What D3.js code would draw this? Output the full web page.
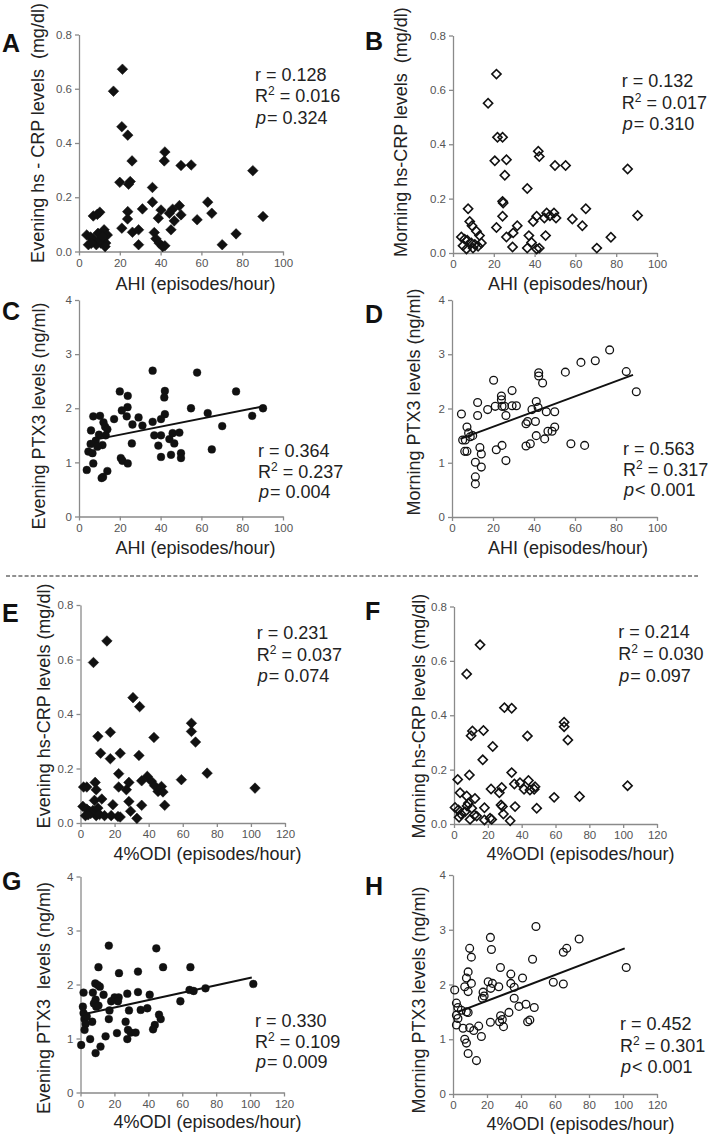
<!DOCTYPE html>
<html>
<head>
<meta charset="utf-8">
<script src="https://cdn.jsdelivr.net/npm/d3@7"></script>
<style>
  html, body { margin: 0; padding: 0; background: #fff; }
  svg { display: block; }
  .tick text { font-family: "Liberation Sans Narrow", "Arial Narrow", "Liberation Sans", sans-serif; font-size: 11.5px; fill: #555; }
  .domain, .tick line { stroke: #8a8a8a; stroke-width: 1.3; }
</style>
</head>
<body>
<svg id="chart" width="710" height="1137"></svg>
<script>
// ---------- DATA ----------
const ahiTicks = [0, 20, 40, 60, 80, 100];
const odiTicks = [0, 20, 40, 60, 80, 100, 120];
const crpTicks = [0.0, 0.2, 0.4, 0.6, 0.8];
const ptxTicks = [0, 1, 2, 3, 4];

// A: AHI vs evening hs-CRP
const dataA = [[21.3,0.672],[16.9,0.591],[21,0.46],[23.9,0.429],[26,0.334],[20,0.255],[25.1,0.258],[24.3,0.248],[36,0.236],[42.1,0.367],[41.8,0.334],[50,0.317],[55,0.319],[85.2,0.298],[90.2,0.129],[77,0.065],[70.2,0.025],[63.1,0.182],[65.1,0.141],[57.9,0.117],[49.2,0.169],[50,0.135],[45.9,0.156],[45.1,0.08],[46.7,0.113],[44.3,0.141],[40.2,0.153],[38.9,0.123],[36,0.182],[31.1,0.157],[23.9,0.147],[23.8,0.12],[21,0.086],[26.2,0.071],[29.2,0.08],[29.2,0.025],[36.9,0.07],[37.7,0.047],[39.3,0.031],[41,0.018],[42.1,0.021],[3.8,0.061],[4.6,0.025],[7,0.131],[9,0.137],[10.2,0.145],[9.3,0.067],[7,0.045],[8.5,0.025],[10.7,0.031],[12.3,0.08],[13.1,0.031],[12.8,0.018],[13.9,0.061],[10.2,0.043],[5.7,0.053],[6,0.03],[11.5,0.055]];
// B: AHI vs morning hs-CRP
const dataB = [[21.3,0.658],[17.2,0.551],[21.8,0.426],[24.3,0.426],[20.5,0.339],[26.2,0.343],[25.4,0.286],[24.3,0.19],[24.6,0.184],[36.4,0.237],[41.8,0.374],[42.3,0.355],[50,0.322],[55.2,0.322],[85.6,0.309],[90.5,0.138],[77.4,0.058],[70.5,0.018],[65.1,0.163],[63.4,0.1],[58.5,0.125],[49.5,0.147],[50.5,0.129],[45.9,0.147],[47.5,0.137],[44.8,0.129],[41,0.135],[39.3,0.116],[45.4,0.064],[31.5,0.1],[29.5,0.074],[29.2,0.022],[26.2,0.059],[24.3,0.135],[21.3,0.094],[37.2,0.064],[38.5,0.039],[36.4,0.018],[41,0.015],[42.3,0.018],[7.4,0.163],[8.2,0.116],[9.3,0.1],[11.5,0.08],[13,0.064],[4.1,0.059],[5.7,0.051],[7,0.047],[9,0.037],[10.7,0.031],[12.3,0.025],[4.9,0.027],[6.6,0.015],[13.9,0.037],[9.8,0.018]];
// C: AHI vs evening PTX3
const dataC = [[36.1,2.695],[57.9,2.66],[77,2.31],[20,2.31],[42.1,2.32],[41.8,2.2],[23.9,2.23],[23.8,2.02],[21,1.96],[54.9,2],[63.1,1.91],[90.2,2],[84.9,1.86],[70.2,1.67],[65.1,1.24],[36.1,1.75],[42.1,1.89],[40.2,1.8],[29.2,1.83],[31.1,1.68],[26.2,1.7],[23.4,1.85],[17.2,1.8],[25.9,1.35],[20.5,1.08],[21.3,1.03],[23.9,0.98],[36.9,1.5],[38.9,1.31],[40.2,1.5],[44.3,1.43],[45.9,1.54],[46.7,1.35],[49.2,1.55],[45.1,1.14],[40.2,1.1],[50,1.17],[50,1.08],[7,1.85],[10.3,1.86],[12,1.74],[12.8,1.66],[13.9,1.61],[5.9,1.59],[13.1,1.5],[9.8,1.51],[8.2,1.4],[5.7,1.34],[11.5,1.32],[9,1.29],[4.6,1.2],[6.6,1.17],[7,0.98],[3.8,0.86],[13.9,0.84],[11.1,0.71],[11.8,0.73]];
// D: AHI vs morning PTX3
const dataD = [[4.6,1.9],[5.2,1.42],[6.5,1.42],[7.3,1.66],[8.1,1.55],[8.9,1.48],[10.1,1.5],[6.2,1.21],[7.3,1.21],[12.5,2.11],[12.5,1.87],[17.4,1.98],[13.6,1.28],[14.3,1.16],[14.3,0.92],[11.4,1.01],[11.4,0.74],[11.4,0.61],[20.3,2.52],[21.1,2.04],[21.6,1.24],[24.4,1.32],[24.1,2.23],[24.1,2.16],[24.4,2.04],[25.6,2.04],[26.3,1.87],[26.3,1.04],[29.3,2.33],[29.3,2.05],[31.4,2.05],[36.1,1.72],[36.9,1.76],[36.1,1.31],[38.2,1.35],[39,1.98],[40.7,1.76],[41.1,2.13],[42,2.02],[41.1,1.5],[42.3,2.66],[42.3,2.6],[44.2,2.47],[45.2,1.44],[46,1.94],[46.8,1.58],[48.8,1.58],[50.1,1.66],[50.1,1.94],[55.3,2.67],[62.9,2.85],[69.9,2.88],[76.9,3.08],[85,2.68],[89.9,2.31],[58,1.35],[64.7,1.32]];
// E: 4%ODI vs evening hs-CRP
const dataE = [[15.5,0.668],[7.6,0.589],[30.8,0.46],[34.7,0.427],[17.5,0.333],[10.2,0.318],[43.1,0.314],[65.1,0.366],[65.1,0.336],[67.5,0.297],[11.8,0.256],[23.3,0.256],[17.5,0.236],[34.3,0.248],[74.3,0.183],[59.2,0.159],[102.4,0.128],[22.4,0.181],[39.2,0.171],[35.9,0.155],[41.6,0.153],[43.5,0.137],[47.5,0.134],[45.5,0.116],[48.4,0.114],[49.4,0.065],[35.9,0.065],[22.4,0.132],[28.4,0.149],[26.9,0.122],[28.4,0.079],[29.4,0.043],[33.1,0.017],[19,0.067],[1.8,0.132],[3.7,0.132],[8.6,0.149],[9.2,0.122],[12.5,0.088],[8.2,0.083],[1.4,0.061],[3.7,0.051],[5.3,0.043],[7.3,0.046],[10.2,0.055],[2.9,0.027],[9.2,0.027],[11.2,0.031],[14.1,0.027],[18,0.027],[22,0.024],[23.3,0.022],[6,0.035],[4.5,0.03]];
// F: 4%ODI vs morning hs-CRP
const dataF = [[15.4,0.659],[7.5,0.552],[29.8,0.428],[34.1,0.426],[10.9,0.342],[10.1,0.325],[17.4,0.344],[43.4,0.324],[65.1,0.374],[65.1,0.358],[67.3,0.309],[22.9,0.285],[17,0.236],[34.1,0.189],[9.1,0.18],[2.2,0.164],[3.6,0.115],[7.5,0.103],[12.4,0.094],[21.9,0.129],[28.2,0.134],[26.8,0.115],[35.7,0.147],[39,0.152],[44,0.16],[41.4,0.128],[44.9,0.125],[47.9,0.137],[47.4,0.128],[48.9,0.058],[36.1,0.064],[59.2,0.098],[74.2,0.101],[102.6,0.141],[27.8,0.07],[28.6,0.064],[29.2,0.037],[33.2,0.012],[18,0.06],[18,0.015],[21.3,0.021],[22.3,0.017],[0.6,0.061],[2.6,0.052],[4.1,0.037],[3,0.025],[6.5,0.045],[7.7,0.066],[8.5,0.076],[10.5,0.058],[9.5,0.017],[12,0.033],[13.4,0.029]];
// G: 4%ODI vs evening PTX3
const dataG = [[16.7,2.72],[44.7,2.67],[10.6,2.32],[48.7,2.32],[64.8,2.32],[22.7,2.21],[33.9,2.24],[8.7,2.02],[10.2,1.99],[11.4,1.96],[101.9,2.01],[73.7,1.93],[64.3,1.9],[66.7,1.88],[58.9,1.69],[1.8,1.85],[7.3,1.85],[13.6,1.81],[27.6,1.83],[33.9,1.86],[40.8,1.81],[20.1,1.76],[22.5,1.76],[18.1,1.69],[17.1,1.52],[16.7,1.36],[22.1,1.69],[8.9,1.72],[9.3,1.59],[7.9,1.65],[10.6,1.61],[28.6,1.52],[35.5,1.53],[39.4,1.56],[46.3,1.44],[47.3,1.36],[43.8,1.25],[42.8,1.17],[26.6,1.31],[28,1.16],[29.6,1.11],[32.5,1.11],[27.6,0.99],[21.5,1.1],[14.8,1.04],[5.7,0.99],[0.4,0.88],[11.8,0.85],[8.9,0.73],[1.8,1.47],[2.4,1.36],[3,1.27],[2.4,1.16],[1.4,1.59],[6.9,1.31],[3.7,1.41]];
// H: 4%ODI vs morning PTX3
const dataH = [[48.8,3.06],[74.2,2.83],[22,2.86],[9.8,2.66],[22.6,2.64],[10.8,2.5],[66.9,2.66],[64.9,2.59],[46.8,2.46],[27.9,2.31],[101.9,2.31],[8.9,2.23],[7.9,2.12],[34,2.19],[40.9,2.12],[59,2.04],[64.9,2.01],[1,1.9],[6.9,1.96],[10.8,2.02],[8.9,1.87],[20.7,2.05],[23.2,2.02],[22.2,1.93],[26.9,1.96],[34,2.02],[36,1.95],[17.7,1.86],[17.3,1.75],[18.3,1.79],[36,1.75],[42.9,1.64],[47.8,1.58],[38.8,1.6],[32.9,1.49],[28,1.43],[29,1.36],[27.4,1.32],[29.7,1.23],[22,1.31],[43.9,1.32],[45.2,1.35],[2,1.66],[2.9,1.58],[4.9,1.53],[7.9,1.5],[8.9,1.49],[2,1.44],[2.9,1.38],[2,1.26],[9.8,1.21],[5.9,1.2],[12.2,1.16],[15.1,1.24],[16.7,1.05],[6.9,1.0],[7.9,0.93],[8.9,0.74],[13.8,0.61]];

// regression line end points [[x1,y1],[x2,y2]]
const fitC = [[8, 1.42], [91, 2.04]];
const fitD = [[4.1, 1.44], [88.3, 2.62]];
const fitG = [[0.5, 1.44], [101, 2.13]];
const fitH = [[3, 1.5], [101, 2.66]];

// statistics text
const statsA = ["0.128", "0.016", "= 0.324"];
const statsB = ["0.132", "0.017", "= 0.310"];
const statsC = ["0.364", "0.237", "= 0.004"];
const statsD = ["0.563", "0.317", "< 0.001"];
const statsE = ["0.231", "0.037", "= 0.074"];
const statsF = ["0.214", "0.030", "= 0.097"];
const statsG = ["0.330", "0.109", "= 0.009"];
const statsH = ["0.452", "0.301", "< 0.001"];

const yLabels = ["Evening hs - CRP levels  (mg/dl)", "Morning hs-CRP levels  (mg/dl)",
  "Evening PTX3 levels (ng/ml)", "Morning PTX3 levels (ng/ml)",
  "Evening hs-CRP levels (mg/dl)", "Morning hs-CRP levels (mg/dl)",
  "Evening PTX3  levels (ng/ml)", "Morning PTX3 levels (ng/ml)"];
const xLabels = ["AHI (episodes/hour)", "AHI (episodes/hour)", "AHI (episodes/hour)", "AHI (episodes/hour)",
  "4%ODI (episodes/hour)", "4%ODI (episodes/hour)", "4%ODI (episodes/hour)", "4%ODI (episodes/hour)"];
const letters = ["A", "B", "C", "D", "E", "F", "G", "H"];

// ---------- LAYOUT ----------
const layout = [
  {x0: 79, x1: 283, yT: 34.5, yB: 251.5, xMax: 100, yMax: 0.8, lab: [44, 133], xl: [195.5, 289.5], let: [2, 52], st: [255, 80.5], sp: 21.7},
  {x0: 453, x1: 657, yT: 35.5, yB: 253, xMax: 100, yMax: 0.8, lab: [407, 132], xl: [568, 290], let: [365, 50], st: [621.7, 87], sp: 21.7},
  {x0: 79, x1: 283, yT: 300, yB: 516.5, xMax: 100, yMax: 4, lab: [45, 416], xl: [195.5, 553.5], let: [2, 320], st: [258, 457], sp: 20.7},
  {x0: 452, x1: 657, yT: 300, yB: 517, xMax: 100, yMax: 4, lab: [420, 402], xl: [568, 554], let: [365, 323], st: [623, 455], sp: 20.7},
  {x0: 80.5, x1: 285, yT: 605, yB: 823, xMax: 120, yMax: 0.8, lab: [50, 706], xl: [207.5, 859.5], let: [2, 622], st: [256.7, 639], sp: 21.5},
  {x0: 454, x1: 657, yT: 606.5, yB: 824, xMax: 120, yMax: 0.8, lab: [425, 716], xl: [580.5, 860], let: [365, 620], st: [618.3, 638.3], sp: 21.7},
  {x0: 80.5, x1: 284, yT: 876.5, yB: 1092.5, xMax: 120, yMax: 4, lab: [50, 998], xl: [207.5, 1128], let: [2, 890], st: [255, 1026.7], sp: 20.8},
  {x0: 453, x1: 657, yT: 875, yB: 1094, xMax: 120, yMax: 4, lab: [425, 1000], xl: [580.5, 1129.5], let: [365, 895], st: [620, 1030], sp: 21.5}
];

const datasets = [dataA, dataB, dataC, dataD, dataE, dataF, dataG, dataH];
const fits = [null, null, fitC, fitD, null, null, fitG, fitH];
const stats = [statsA, statsB, statsC, statsD, statsE, statsF, statsG, statsH];
const markers = ["diamondFill", "diamondOpen", "circleFill", "circleOpen", "diamondFill", "diamondOpen", "circleFill", "circleOpen"];

const svg = d3.select("#chart");
const FONT = "'Liberation Sans', Arial, Helvetica, sans-serif";

// dashed separator
svg.append("line").attr("x1", 6).attr("x2", 698).attr("y1", 576).attr("y2", 576)
  .attr("stroke", "#222").attr("stroke-width", 1.2).attr("stroke-dasharray", "4,2.2");

layout.forEach((L, i) => {
  const g = svg.append("g");
  const x = d3.scaleLinear().domain([0, L.xMax]).range([L.x0, L.x1]);
  const y = d3.scaleLinear().domain([0, L.yMax]).range([L.yB, L.yT]);
  const xt = L.xMax === 100 ? ahiTicks : odiTicks;
  const yt = L.yMax === 4 ? ptxTicks : crpTicks;

  g.append("g").attr("transform", `translate(0,${L.yB})`)
    .call(d3.axisBottom(x).tickValues(xt).tickSize(4).tickPadding(3).tickSizeOuter(0).tickFormat(d3.format("d")));
  g.append("g").attr("transform", `translate(${L.x0},0)`)
    .call(d3.axisLeft(y).tickValues(yt).tickSize(4).tickPadding(3).tickSizeOuter(0)
      .tickFormat(L.yMax === 4 ? d3.format("d") : d3.format(".1f")));

  // points
  const m = markers[i];
  const pts = g.append("g");
  if (m.startsWith("diamond")) {
    const fill = m === "diamondFill";
    const sym = d3.symbol(d3.symbolSquare, fill ? 56 : 42);
    pts.selectAll("path").data(datasets[i]).join("path")
      .attr("d", sym)
      .attr("transform", d => `translate(${x(d[0])},${y(d[1])}) rotate(45)`)
      .attr("fill", fill ? "#111" : "none")
      .attr("stroke", "#111")
      .attr("stroke-width", fill ? 0.5 : 1.6);
  } else {
    const fill = m === "circleFill";
    pts.selectAll("circle").data(datasets[i]).join("circle")
      .attr("cx", d => x(d[0])).attr("cy", d => y(d[1]))
      .attr("r", 3.9)
      .attr("fill", fill ? "#111" : "none")
      .attr("stroke", "#111")
      .attr("stroke-width", fill ? 0.4 : 1.3);
  }

  // regression line
  if (fits[i]) {
    g.append("path").datum(fits[i])
      .attr("d", d3.line().x(d => x(d[0])).y(d => y(d[1])))
      .attr("stroke", "#111").attr("stroke-width", 2).attr("fill", "none");
  }

  // panel letter
  g.append("text").attr("x", L.let[0]).attr("y", L.let[1]).text(letters[i])
    .attr("font-family", FONT).attr("font-weight", "bold").attr("font-size", 25).attr("fill", "#111");

  // y label
  g.append("text").attr("transform", `translate(${L.lab[0]},${L.lab[1]}) rotate(-90)`)
    .attr("text-anchor", "middle").attr("font-family", FONT).attr("font-size", 18).attr("fill", "#222")
    .attr("xml:space", "preserve").style("white-space", "pre")
    .text(yLabels[i]);

  // x label
  g.append("text").attr("x", L.xl[0]).attr("y", L.xl[1]).attr("text-anchor", "middle")
    .attr("font-family", FONT).attr("font-size", 18).attr("fill", "#222").text(xLabels[i]);

  // stats
  const s = stats[i];
  const st = g.append("g").attr("font-family", FONT).attr("font-size", 18).attr("fill", "#222");
  st.append("text").attr("x", L.st[0]).attr("y", L.st[1]).text("r = " + s[0]);
  const t2 = st.append("text").attr("x", L.st[0]).attr("y", L.st[1] + L.sp);
  t2.append("tspan").text("R");
  t2.append("tspan").attr("font-size", 12).attr("dy", -7).text("2");
  t2.append("tspan").attr("dy", 7).text(" = " + s[1]);
  const t3 = st.append("text").attr("x", L.st[0] + 1).attr("y", L.st[1] + 2 * L.sp);
  t3.append("tspan").attr("font-style", "italic").text("p");
  t3.append("tspan").attr("dx", 1).text(s[2]);
});
</script>
</body>
</html>
